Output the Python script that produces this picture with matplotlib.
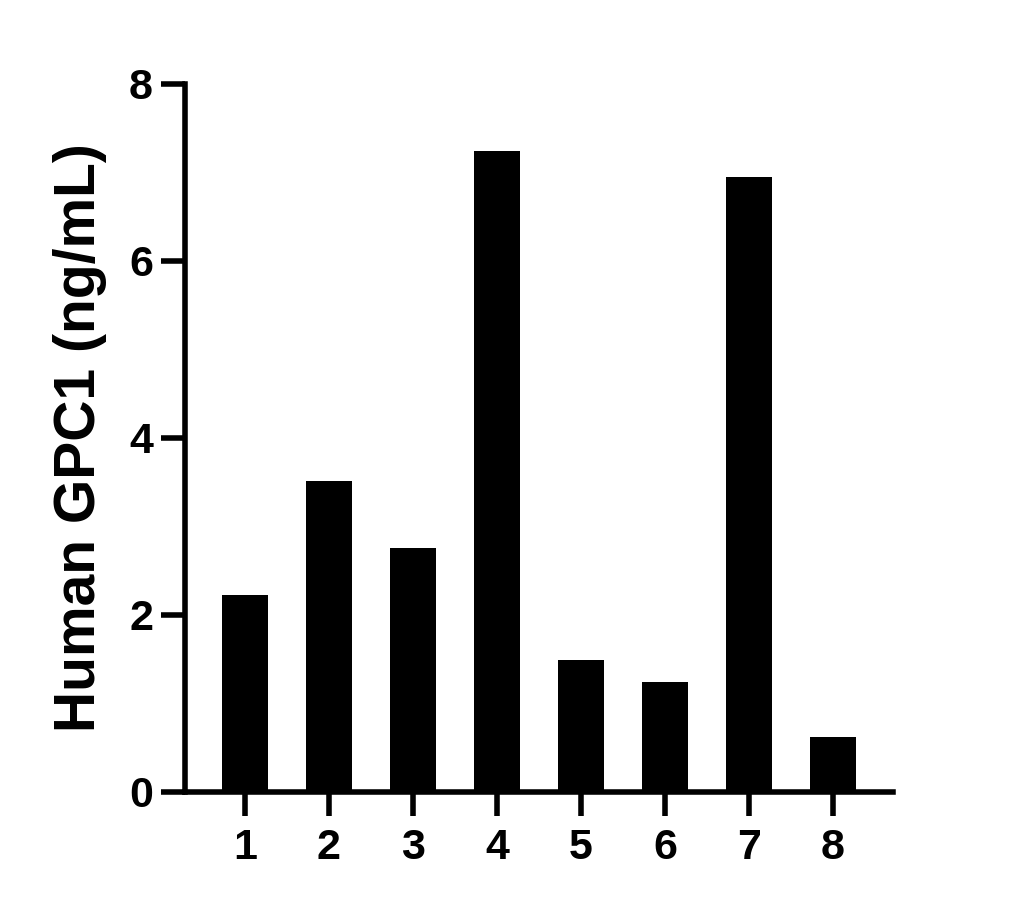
import numpy as np
import matplotlib.pyplot as plt

plt.rcParams['font.family'] = ['Liberation Sans', 'DejaVu Sans']
plt.rcParams['font.weight'] = 'bold'

samples = ['1', '2', '3', '4', '5', '6', '7', '8']
gpc1 = [2.23, 3.51, 2.76, 7.24, 1.49, 1.24, 6.95, 0.62]
y_ticks = [0, 2, 4, 6, 8]

fig = plt.figure(figsize=(10.31, 9.08), dpi=100)
ax = fig.add_axes([0.1794, 0.1278, 0.8661 - 0.1794, 0.9075 - 0.1278])

x = np.arange(1, len(samples) + 1)
ax.bar(x, gpc1, width=0.55, color='black')

ax.set_xlim(0.286, 8.714)
ax.set_ylim(0, 8)
ax.set_xticks(x)
ax.set_xticklabels(samples)
ax.set_yticks(y_ticks)

for side in ['top', 'right']:
    ax.spines[side].set_visible(False)
for side in ['left', 'bottom']:
    ax.spines[side].set_linewidth(4)
ax.spines['left'].set_capstyle('projecting')

ax.tick_params(axis='both', length=17, width=4, labelsize=31)
ax.tick_params(axis='x', pad=9)
ax.tick_params(axis='y', pad=6)
for lbl in ax.get_xticklabels() + ax.get_yticklabels():
    lbl.set_fontweight('bold')

ax.set_ylabel('Human GPC1 (ng/mL)', fontsize=41, fontweight='bold', labelpad=16)

fig.savefig('out.png', dpi=100)
